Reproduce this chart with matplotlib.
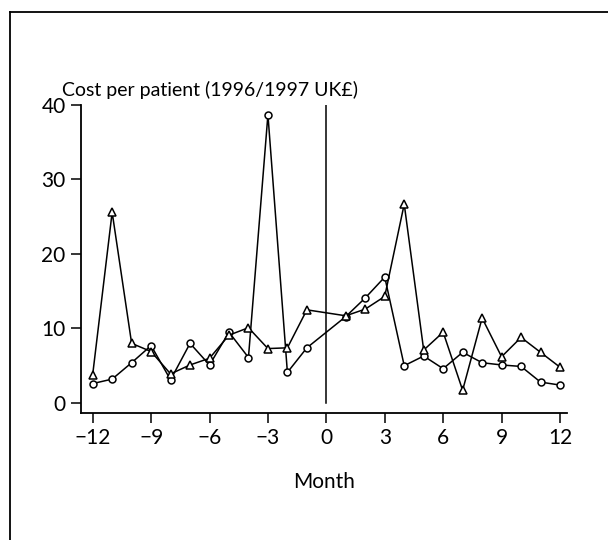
import matplotlib
matplotlib.use('Agg')
import matplotlib.pyplot as plt
from matplotlib.lines import Line2D

plt.rcParams['font.family'] = ['Lato', 'DejaVu Sans']

# Months (no data at month 0)
months = [-12, -11, -10, -9, -8, -7, -6, -5, -4, -3, -2, -1,
          1, 2, 3, 4, 5, 6, 7, 8, 9, 10, 11, 12]

cost_circles = [2.6, 3.2, 5.4, 7.7, 3.1, 8.0, 5.1, 9.5, 6.1, 38.7, 4.1, 7.4,
                11.6, 14.1, 16.9, 5.0, 6.3, 4.6, 6.8, 5.4, 5.1, 4.9, 2.8, 2.4]

cost_triangles = [3.8, 25.6, 8.0, 6.9, 3.9, 5.1, 6.0, 9.1, 10.1, 7.3, 7.4, 12.5,
                  11.7, 12.6, 14.3, 26.7, 7.1, 9.5, 1.7, 11.4, 6.2, 8.8, 6.8, 4.8]

x_ticks = [-12, -9, -6, -3, 0, 3, 6, 9, 12]
x_tick_labels = ['\u221212', '\u22129', '\u22126', '\u22123', '0', '3', '6', '9', '12']
y_ticks = [0, 10, 20, 30, 40]

fig = plt.figure(figsize=(6.08, 5.40), dpi=100)
ax = fig.add_axes([81 / 608, 1 - 413 / 540, (567 - 81) / 608, (413 - 105) / 540])

ax.plot(months, cost_circles, color='black', linewidth=1.1, marker='o',
        markersize=5, markerfacecolor='white', markeredgecolor='black',
        markeredgewidth=1.1)
ax.plot(months, cost_triangles, color='black', linewidth=1.1, marker='^',
        markersize=5.5, markerfacecolor='white', markeredgecolor='black',
        markeredgewidth=1.1)

# intervention line at month 0
ax.plot([0, 0], [0, 40], color='black', linewidth=1.1)

ax.set_xlim(-12.6, 12.36)
ax.set_ylim(-1.35, 40)
ax.set_xticks(x_ticks)
ax.set_xticklabels(x_tick_labels)
ax.set_yticks(y_ticks)

for side in ['top', 'right']:
    ax.spines[side].set_visible(False)
for side in ['left', 'bottom']:
    ax.spines[side].set_linewidth(1.3)

ax.tick_params(direction='out', length=7, width=1.1, labelsize=15, pad=4)

ax.set_xlabel('Month', fontsize=15, labelpad=17)
ax.text(-0.04, 1.02, 'Cost per patient (1996/1997 UK\u00a3)', transform=ax.transAxes,
        fontsize=14, ha='left', va='bottom')

# outer frame, cut by the image edges
fig.add_artist(Line2D([10 / 608, 10 / 608], [0, 1 - 12 / 540], transform=fig.transFigure,
                      color='black', linewidth=1.3))
fig.add_artist(Line2D([10 / 608, 1], [1 - 12 / 540, 1 - 12 / 540], transform=fig.transFigure,
                      color='black', linewidth=1.3))

fig.savefig('out.png', dpi=100)
